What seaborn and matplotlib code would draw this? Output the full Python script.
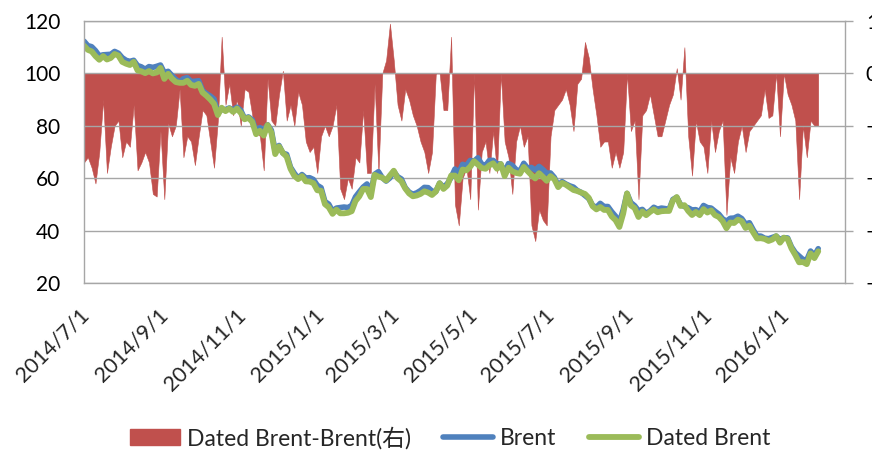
import numpy as np
import pandas as pd
import matplotlib
matplotlib.use('Agg')
import matplotlib.pyplot as plt
import matplotlib.patches as mpatches
import matplotlib.transforms as mtransforms
from matplotlib.lines import Line2D
import seaborn as sns

# samples every 3 days, 2014/7/1 .. 2016/1/28
start_date = '2014-07-01'
step = '3D'

brent = [
    112.3, 110.6, 110.2, 108.7, 106.7, 107.1, 107.2, 107.3, 108.4, 107.7,
    106.0, 105.0, 104.6, 105.0, 103.0, 102.5, 101.6, 102.6, 102.3, 102.7,
    103.2, 100.3, 100.8, 99.2, 97.7, 96.7, 98.0, 98.4, 96.9, 97.0,
    97.2, 93.4, 92.3, 91.4, 90.2, 85.0, 86.2, 86.2, 86.8, 86.1,
    87.1, 85.9, 82.8, 83.4, 82.3, 77.9, 79.3, 78.1, 80.4, 78.3,
    70.2, 72.5, 69.6, 69.1, 64.2, 61.9, 60.0, 61.4, 60.1, 60.2,
    59.5, 57.3, 56.4, 51.1, 50.1, 47.4, 48.6, 48.8, 49.0, 48.8,
    49.6, 52.9, 54.8, 56.6, 57.8, 54.7, 61.5, 62.5, 60.2, 58.9,
    60.1, 62.6, 60.6, 59.7, 56.4, 54.7, 53.9, 54.4, 55.3, 56.5,
    56.4, 55.1, 54.9, 58.1, 56.6, 57.9, 60.3, 63.5, 62.1, 65.3,
    64.8, 66.8, 66.5, 67.8, 65.4, 64.9, 66.8, 66.8, 65.5, 65.4,
    62.1, 65.6, 64.9, 63.3, 62.7, 65.7, 63.9, 64.1, 63.1, 64.5,
    63.3, 61.9, 62.0, 60.3, 57.2, 58.7, 57.8, 57.1, 56.6, 55.3,
    54.6, 53.4, 52.2, 49.6, 48.9, 50.4, 49.2, 49.2, 47.2, 45.5,
    43.2, 48.0, 54.2, 50.7, 49.5, 47.6, 48.1, 46.6, 47.5, 48.9,
    48.2, 48.6, 48.4, 48.1, 51.9, 52.7, 49.9, 49.2, 48.7, 47.9,
    48.0, 47.2, 49.6, 48.8, 48.6, 47.4, 46.3, 44.5, 43.6, 44.7,
    44.8, 45.5, 44.6, 42.5, 43.0, 40.3, 37.9, 37.9, 37.1, 36.9,
    37.4, 37.9, 36.6, 37.3, 37.2, 33.8, 31.6, 30.3, 29.0, 28.8,
    32.2, 30.5, 33.1,
]

# Dated Brent - Brent (right axis)
spread = [
    -1.7, -1.6, -1.8, -2.1, -1.5, -0.5, -1.9, -1.4, -1.0, -0.9,
    -1.6, -1.3, -1.4, -0.6, -1.85, -1.7, -1.5, -1.7, -2.3, -2.35,
    -1.1, -2.4, -0.95, -1.2, -1.0, -0.3, -1.6, -1.2, -1.3, -1.75,
    -1.2, -0.7, -0.8, -1.3, -1.8, -0.9, 0.7, -0.6, -0.2, -0.8,
    -0.5, -1.0, -0.3, -0.35, -0.8, -1.1, -1.2, -1.85, -0.1, -0.9,
    -1.0, -0.4, 0.05, -0.9, -0.6, -1.0, -0.35, -0.6, -1.3, -1.5,
    -1.4, -1.9, -1.2, -1.0, -1.2, -1.0, -0.6, -2.2, -2.4, -2.0,
    -2.2, -1.6, -1.7, -0.7, -1.9, -1.9, -0.2, -1.9, 0.0, 0.25,
    0.95, 0.25, -0.6, -0.9, -0.3, -0.5, -0.8, -1.0, -1.3, -1.5,
    -1.9, -1.5, 0.0, 0.0, -0.7, -0.7, 0.7, -2.5, -2.9, -2.0,
    -1.8, -2.4, 0.0, -2.6, -1.5, -1.3, -1.9, -1.1, -1.9, 0.0,
    -1.3, -1.6, -2.3, -1.3, -1.0, -1.4, -1.2, -2.9, -3.2, -2.6,
    -2.8, -2.9, -1.2, -0.7, -0.6, -0.5, -0.3, -0.6, -1.1, -0.2,
    -0.1, 0.6, 0.3, -0.3, -0.8, -1.4, -1.3, -1.3, -1.8, -1.5,
    -1.8, -1.5, 0.0, -1.1, -0.9, -2.4, -0.8, -0.7, -0.4, -0.8,
    -1.2, -1.2, -0.9, -0.6, -0.4, 0.1, -0.5, 0.5, -1.2, -1.95,
    -0.9, -1.3, -1.4, -1.9, -0.9, -1.5, -1.1, -0.9, -2.7, -1.6,
    -1.9, -1.3, -1.0, -1.5, -1.1, -1.0, -0.9, -0.8, -0.3, -0.85,
    -0.8, 0.0, -1.2, 0.0, -0.4, -0.6, -0.9, -2.4, -1.0, -1.6,
    -0.9, -1.0, -1.0,
]

left_ticks = [20, 40, 60, 80, 100, 120]
right_ticks = [-4, -3, -2, -1, 0, 1]
tick_dates = ['2014-07-01', '2014-09-01', '2014-11-01', '2015-01-01', '2015-03-01',
              '2015-05-01', '2015-07-01', '2015-09-01', '2015-11-01', '2016-01-01']

dates = pd.date_range(start_date, periods=len(brent), freq=step)
df = pd.DataFrame({'date': dates, 'Brent': brent, 'spread': spread})
df['Dated Brent'] = df['Brent'] + df['spread']

sns.set_theme(style='white')
plt.rcParams['font.family'] = ['Lato', 'Noto Sans CJK SC']

RED = '#C0504D'
BLUE = '#4F81BD'
GREEN = '#9BBB59'
GRID = '#A6A6A6'
FS = 15

fig = plt.figure(figsize=(8.72, 4.5), dpi=100)
ax = fig.add_axes([84 / 872, 1 - 283 / 450, (845 - 84) / 872, (283 - 21) / 450])
ax2 = ax.twinx()
ax.set_zorder(ax2.get_zorder() + 1)
ax.patch.set_visible(False)

# spread area on the right axis
ax2.fill_between(df['date'], df['spread'], 0, color=RED, lw=0.4, edgecolor=RED)

sns.lineplot(data=df, x='date', y='Brent', ax=ax, color=BLUE, lw=4.0,
             legend=False, solid_capstyle='round')
sns.lineplot(data=df, x='date', y='Dated Brent', ax=ax, color=GREEN, lw=4.2,
             legend=False, solid_capstyle='round')

ax.set_xlim(pd.Timestamp('2014-07-01'), pd.Timestamp('2016-02-18'))
ax.set_ylim(20, 120)
ax.set_yticks(left_ticks)
ax2.set_ylim(-4, 1)
ax2.set_yticks(right_ticks)
ax.set_xlabel('')
ax.set_ylabel('')
ax2.set_ylabel('')

ax.grid(axis='y', color=GRID, lw=1.0)
ax.grid(axis='x', visible=False)
ax2.grid(False)

for s in ax.spines.values():
    s.set_color(GRID)
    s.set_linewidth(1.0)
ax.spines['right'].set_visible(False)
for name in ['left', 'top', 'bottom']:
    ax2.spines[name].set_visible(False)
ax2.spines['right'].set_color(GRID)
ax2.spines['right'].set_linewidth(1.0)

ax.tick_params(axis='y', length=0, pad=17, labelsize=FS, labelcolor='black')
ax2.tick_params(axis='y', direction='out', length=6, width=1, color=GRID,
                pad=9, labelsize=FS, labelcolor='black')

xt = [pd.Timestamp(d) for d in tick_dates]
ax.set_xticks(xt)
ax.set_xticklabels([f'{d.year}/{d.month}/{d.day}' for d in xt], rotation=45,
                   ha='right', va='top', rotation_mode='anchor', fontsize=15.5)
ax.tick_params(axis='x', length=0, pad=16)
shift = mtransforms.ScaledTranslation(-5 / 100, 0, fig.dpi_scale_trans)
for lab in ax.get_xticklabels():
    lab.set_transform(lab.get_transform() + shift)

handles = [
    mpatches.Patch(color=RED, label='Dated Brent-Brent(右)'),
    Line2D([0], [0], color=BLUE, lw=4.0, label='Brent'),
    Line2D([0], [0], color=GREEN, lw=4.2, label='Dated Brent'),
]
fig.legend(handles=handles, loc='center', bbox_to_anchor=(0.516, 0.027), ncol=3,
           frameon=False, fontsize=16.5, handlelength=2.2, handletextpad=0.3,
           columnspacing=1.4)

fig.savefig('out.png', dpi=100)
